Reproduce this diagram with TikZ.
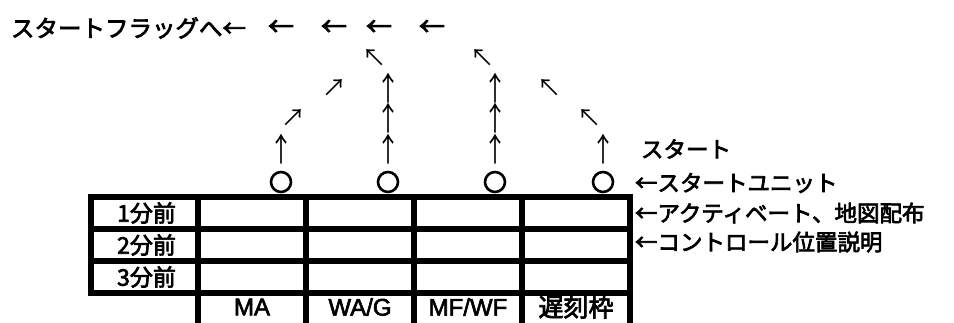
\documentclass[tikz,border=0pt]{standalone}
\usepackage{fontspec}
\setmainfont{Noto Sans CJK JP}
\newfontfamily\medfont{Noto Sans CJK JP}[FakeBold=3]
\newfontfamily\latinfont{Liberation Sans}[FakeBold=2.5]
\begin{document}
\begin{tikzpicture}[x=1pt,y=-1pt,
  every node/.style={inner sep=0pt,outer sep=0pt},
  lbl/.style={anchor=west,font=\medfont\fontsize{22.5}{22.5}\selectfont},
  arr/.style={font=\fontsize{24}{24}\selectfont},
  larr/.style={font=\medfont\fontsize{26}{26}\selectfont},
  uarr/.style={font=\fontsize{24}{24}\selectfont},
  cellt/.style={font=\medfont\fontsize{23}{23}\selectfont},
  lat/.style={font=\latinfont\fontsize{24}{24}\selectfont},
  unit/.style={draw,circle,line width=2.6pt,minimum size=20pt},
  gridline/.style={line width=6pt}]
\useasboundingbox (0,0) rectangle (954,322);
% title row
\node[lbl,font=\medfont\fontsize{23.5}{23.5}\selectfont] (title) at (11,28) {スタートフラッグへ←};
\node[larr] (l1) at (281,28) {←};
\node[larr] (l2) at (334,28) {←};
\node[larr] (l3) at (379,28) {←};
\node[larr] (l4) at (432,28) {←};
% row 2
\node[arr] (a21) at (374,58) {↖};
\node[arr] (a22) at (482,58) {↖};
% row 3
\node[arr] (a31) at (334,88) {↗};
\node[uarr] (a32) at (388,88) {\scalebox{1}[1.35]{↑}};
\node[uarr] (a33) at (495,88) {\scalebox{1}[1.35]{↑}};
\node[arr] (a34) at (549,88) {↖};
% row 4
\node[arr] (a41) at (293,118) {↗};
\node[uarr] (a42) at (388,118) {\scalebox{1}[1.35]{↑}};
\node[uarr] (a43) at (495,118) {\scalebox{1}[1.35]{↑}};
\node[arr] (a44) at (589,118) {↖};
% row 5
\node[uarr] (a51) at (281,149) {\scalebox{1}[1.35]{↑}};
\node[uarr] (a52) at (388,149) {\scalebox{1}[1.35]{↑}};
\node[uarr] (a53) at (495,149) {\scalebox{1}[1.35]{↑}};
\node[uarr] (a54) at (603,149) {\scalebox{1}[1.35]{↑}};
% start units
\node[unit] (u1) at (281,182) {};
\node[unit] (u2) at (388,182) {};
\node[unit] (u3) at (495,182) {};
\node[unit] (u4) at (603,182) {};
% right labels
\node[lbl] (start) at (641,149) {スタート};
\node[lbl] (unitlbl) at (635,183) {←スタートユニット};
\node[lbl] (act) at (635,213) {←アクティベート、地図配布};
\node[lbl] (ctrl) at (635,242) {←コントロール位置説明};
% table
\draw[gridline] (91,197) rectangle (630,292.5);
\draw[gridline] (91,228.5) -- (630,228.5);
\draw[gridline] (91,261) -- (630,261);
\foreach \x in {198,306,414,522,630} \draw[gridline] (\x,197) -- (\x,330);
\node[cellt] (m1) at (146.5,213) {1分前};
\node[cellt] (m2) at (146.5,245) {2分前};
\node[cellt] (m3) at (146.5,277) {3分前};
\node[lat] (ma) at (252,307) {MA};
\node[lat] (wag) at (360,307) {WA/G};
\node[lat] (mfwf) at (468,307) {MF/WF};
\node[cellt,font=\medfont\fontsize{25}{25}\selectfont] (late) at (576,307) {遅刻枠};
\end{tikzpicture}
\end{document}
